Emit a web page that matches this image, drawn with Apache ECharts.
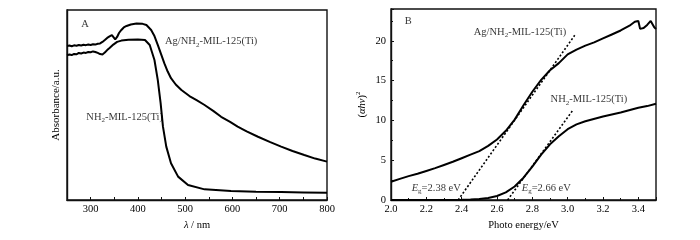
<!DOCTYPE html>
<html><head><meta charset="utf-8">
<script src="https://cdn.jsdelivr.net/npm/echarts@6/dist/echarts.min.js"></script>
<style>html,body{margin:0;padding:0;background:#fff}#c{width:700px;height:240px}</style>
</head><body><div id="c"></div>
<script>
// Panel A: absorbance (a.u.) vs wavelength (nm)
const agWl  = [250,255,260,265,270,275,280,285,290,295,300,305,310,315,320,325,330,335,340,345,348,352,356,360,365,370,376,385,397,410,418,428,435,442,449,456,463,470,480,492,509,525,541,560,576,595,611,630,654,680,703,727,752,775,800];
const agAbs = [0.811,0.813,0.809,0.814,0.812,0.816,0.813,0.817,0.815,0.818,0.816,0.820,0.818,0.822,0.824,0.832,0.842,0.853,0.861,0.868,0.858,0.845,0.858,0.879,0.895,0.908,0.916,0.924,0.929,0.927,0.921,0.895,0.863,0.816,0.768,0.719,0.676,0.641,0.608,0.579,0.547,0.524,0.500,0.468,0.438,0.411,0.386,0.361,0.333,0.305,0.281,0.258,0.237,0.218,0.202];
const nh2Wl  = [250,255,260,265,270,275,280,285,290,295,300,305,310,315,320,325,330,335,340,348,356,365,380,400,415,425,435,442,448,453,460,470,485,506,541,597,650,703,750,800];
const nh2Abs = [0.761,0.766,0.763,0.769,0.767,0.774,0.771,0.776,0.774,0.779,0.778,0.782,0.779,0.774,0.768,0.766,0.776,0.789,0.800,0.818,0.832,0.839,0.843,0.845,0.842,0.816,0.737,0.632,0.511,0.386,0.281,0.193,0.123,0.079,0.056,0.047,0.044,0.042,0.040,0.038];
const tickLabelsA = [300,400,500,600,700,800];

// Panel B: (alpha h nu)^2 vs photon energy (eV)
const agE  = [2.00,2.05,2.10,2.15,2.20,2.25,2.30,2.35,2.40,2.45,2.50,2.55,2.60,2.65,2.70,2.75,2.80,2.85,2.90,2.95,3.00,3.05,3.10,3.15,3.20,3.25,3.30,3.35,3.38,3.40,3.41,3.43,3.45,3.47,3.49,3.50];
const agTauc = [2.3,2.65,3.0,3.3,3.65,4.0,4.4,4.8,5.25,5.7,6.15,6.8,7.6,8.7,10.1,11.9,13.6,15.1,16.3,17.2,18.3,18.9,19.4,19.8,20.3,20.8,21.3,21.9,22.4,22.5,21.5,21.6,22.0,22.5,21.7,21.5];
const nh2E = [2.00,2.30,2.40,2.45,2.50,2.55,2.60,2.65,2.70,2.75,2.80,2.85,2.90,2.95,3.00,3.05,3.10,3.20,3.30,3.40,3.45,3.50];
const nh2Tauc = [0,0,0.02,0.05,0.12,0.25,0.5,0.95,1.7,2.8,4.2,5.7,7.0,8.0,8.9,9.5,9.9,10.5,11.0,11.6,11.8,12.1];
const agTanE = [2.38,3.04], agTanV = [0,20.7];
const nh2TanE = [2.66,3.03], nh2TanV = [0,11.3];
const tickLabelsBX = ['2.0','2.2','2.4','2.6','2.8','3.0','3.2','3.4'];
const tickLabelsBY = [0,5,10,15,20];

const FF = '"Liberation Serif","Times New Roman",serif';
const TC = '#000';
const FS = 10.5;
const rich = {
  n:{fontFamily:FF,fontSize:FS,color:TC},
  i:{fontFamily:FF,fontSize:FS,color:TC,fontStyle:'italic'},
  s:{fontFamily:FF,fontSize:7,color:TC,padding:[7,0,0,0]},
  p:{fontFamily:FF,fontSize:7,color:TC,padding:[0,0,7,0]}
};
const zip = (a,b)=>a.map((v,i)=>[v,b[i]]);
function lbl(x,y,text,align){
  return {value:[x,y],label:{show:true,position:[0,0],align:align||'center',verticalAlign:'middle',formatter:text,rich:rich}};
}
const axisLineStyle = {color:'#111',width:1.4};
const chart = echarts.init(document.getElementById('c'));
chart.setOption({
  animation:false,
  grid:[
    {left:67,top:10,width:260,height:190,show:true,borderColor:'#111',borderWidth:1.4},
    {left:391,top:9,width:265,height:191,show:true,borderColor:'#111',borderWidth:1.4}
  ],
  xAxis:[
    {gridIndex:0,type:'value',min:250,max:800,interval:50,
     axisLine:{lineStyle:axisLineStyle},
     axisTick:{inside:true,length:3,lineStyle:{color:'#111'}},
     splitLine:{show:false},
     axisLabel:{margin:4,fontFamily:FF,fontSize:FS,color:TC,formatter:v=>tickLabelsA.includes(v)?String(v):''},
     name:'{i|λ}{n| / nm}',nameLocation:'middle',nameGap:17,nameTextStyle:{rich:rich}},
    {gridIndex:1,type:'value',min:2.0,max:3.5,interval:0.2,
     axisLine:{lineStyle:axisLineStyle},
     axisTick:{inside:true,length:3,lineStyle:{color:'#111'}},
     minorTick:{show:true,splitNumber:2,length:2,lineStyle:{color:'#111'}},
     splitLine:{show:false},
     axisLabel:{margin:4,fontFamily:FF,fontSize:FS,color:TC,showMaxLabel:false,formatter:v=>{const s=v.toFixed(1);return tickLabelsBX.includes(s)?s:'';}},
     name:'Photo energy/eV',nameLocation:'middle',nameGap:17,nameTextStyle:{fontFamily:FF,fontSize:FS,color:TC}}
  ],
  yAxis:[
    {gridIndex:0,type:'value',min:0,max:1,
     axisLine:{lineStyle:axisLineStyle},axisTick:{show:false},axisLabel:{show:false},splitLine:{show:false},
     name:'Absorbance/a.u.',nameLocation:'middle',nameRotate:90,nameGap:5,nameTextStyle:{fontFamily:FF,fontSize:11,color:TC}},
    {gridIndex:1,type:'value',min:0,max:24,interval:5,
     axisLine:{lineStyle:axisLineStyle},
     axisTick:{inside:true,length:3,lineStyle:{color:'#111'}},
     minorTick:{show:true,splitNumber:2,length:2,lineStyle:{color:'#111'}},
     splitLine:{show:false},
     axisLabel:{margin:5,fontFamily:FF,fontSize:FS,color:TC,showMaxLabel:false,formatter:v=>tickLabelsBY.includes(v)?String(v):''},
     name:'{n|(}{i|αhν}{n|)}{p|2}',nameLocation:'middle',nameRotate:90,nameGap:22,nameTextStyle:{rich:rich}}
  ],
  series:[
    {type:'line',xAxisIndex:0,yAxisIndex:0,data:zip(agWl,agAbs),showSymbol:false,lineStyle:{color:'#000',width:2},z:3},
    {type:'line',xAxisIndex:0,yAxisIndex:0,data:zip(nh2Wl,nh2Abs),showSymbol:false,lineStyle:{color:'#000',width:2},z:3},
    {type:'scatter',xAxisIndex:0,yAxisIndex:0,symbolSize:0,silent:true,data:[
      lbl(288,0.926,'{n|A}'),
      lbl(555,0.834,'{n|Ag/NH}{s|2}{n|-MIL-125(Ti)}'),
      lbl(372,0.437,'{n|NH}{s|2}{n|-MIL-125(Ti)}')
    ]},
    {type:'line',xAxisIndex:1,yAxisIndex:1,data:zip(agE,agTauc),showSymbol:false,lineStyle:{color:'#000',width:2},z:3},
    {type:'line',xAxisIndex:1,yAxisIndex:1,data:zip(nh2E,nh2Tauc),showSymbol:false,lineStyle:{color:'#000',width:2},z:3},
    {type:'line',xAxisIndex:1,yAxisIndex:1,data:zip(agTanE,agTanV),showSymbol:false,lineStyle:{color:'#000',width:1.6,type:[2,2]},z:2},
    {type:'line',xAxisIndex:1,yAxisIndex:1,data:zip(nh2TanE,nh2TanV),showSymbol:false,lineStyle:{color:'#000',width:1.6,type:[2,2]},z:2},
    {type:'scatter',xAxisIndex:1,yAxisIndex:1,symbolSize:0,silent:true,data:[
      lbl(2.097,22.4,'{n|B}'),
      lbl(2.73,21.1,'{n|Ag/NH}{s|2}{n|-MIL-125(Ti)}'),
      lbl(3.12,12.6,'{n|NH}{s|2}{n|-MIL-125(Ti)}'),
      lbl(2.395,1.5,'{i|E}{s|g}{n|=2.38 eV}','right'),
      lbl(2.74,1.5,'{i|E}{s|g}{n|=2.66 eV}','left')
    ]}
  ]
});
</script></body></html>
